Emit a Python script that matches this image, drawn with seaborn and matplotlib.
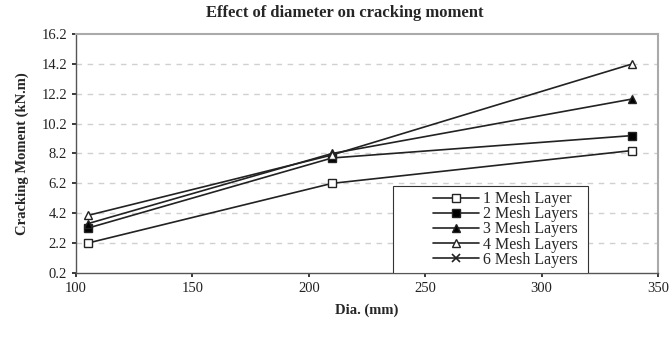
import matplotlib
matplotlib.use("Agg")
import matplotlib.pyplot as plt
from matplotlib.patches import Rectangle
import seaborn as sns
import pandas as pd
import numpy as np

diameters = [105, 210, 339]
mesh1 = [2.2, 6.2, 8.4]
mesh2 = [3.2, 7.9, 9.4]
mesh3 = [3.5, 8.2, 11.85]
mesh4 = [4.05, 8.1, 14.2]
series_names = ["1 Mesh Layer", "2 Mesh Layers", "3 Mesh Layers", "4 Mesh Layers", "6 Mesh Layers"]
yticks = [0.2, 2.2, 4.2, 6.2, 8.2, 10.2, 12.2, 14.2, 16.2]
xticks = [100, 150, 200, 250, 300, 350]

sns.set_theme(style="white")
plt.rcParams['font.family'] = ['Liberation Serif', 'DejaVu Serif']

rows = []
for name, vals in zip(series_names[:4], [mesh1, mesh2, mesh3, mesh4]):
    for d, v in zip(diameters, vals):
        rows.append({"Dia": d, "M": v, "Series": name})
df = pd.DataFrame(rows)

fig = plt.figure(figsize=(6.7, 3.39), dpi=100)
ax = fig.add_axes([0.1134, 0.1947, 0.8686, 0.705])

styles = {
    "1 Mesh Layer": dict(marker="s", mfc="white"),
    "2 Mesh Layers": dict(marker="s", mfc="black"),
    "3 Mesh Layers": dict(marker="^", mfc="black"),
    "4 Mesh Layers": dict(marker="^", mfc="white"),
}
col = "#222222"
for name in series_names[:4]:
    sub = df[df.Series == name]
    sns.lineplot(data=sub, x="Dia", y="M", ax=ax, color=col, lw=1.2,
                 marker=styles[name]["marker"], markersize=5.5,
                 markerfacecolor=styles[name]["mfc"], markeredgecolor=col,
                 markeredgewidth=1.0, label=name)
# 6 mesh layers: hidden beneath others, legend only
ax.plot([], [], color=col, lw=1.2, marker="x", markersize=5.5, markeredgewidth=1.2,
        label="6 Mesh Layers")

ax.set_xlim(100, 350)
ax.set_ylim(0.2, 16.2)
ax.set_xticks(xticks)
ax.set_yticks(yticks)
ax.set_yticklabels([f"{t:.1f}" for t in yticks])
for t in yticks[1:-1]:
    ax.axhline(t, color="#d0d0d0", lw=1.0, ls=(0, (4, 4)), zorder=0)

ax.tick_params(axis="both", labelsize=10.5, length=3, direction="out", colors="#222222",
               bottom=True, left=True)
for s in ["left", "bottom"]:
    ax.spines[s].set_color("#555555")
    ax.spines[s].set_linewidth(1.0)
for s in ["right", "top"]:
    ax.spines[s].set_color("#aaaaaa")
    ax.spines[s].set_linewidth(1.5)

ax.set_xlabel("Dia. (mm)", fontsize=10.5, fontweight="bold", labelpad=6)
ax.set_ylabel("Cracking Moment (kN.m)", fontsize=10.5, fontweight="bold", labelpad=9)
fig.suptitle("Effect of diameter on cracking moment", x=0.515, y=0.985,
             fontsize=12, fontweight="bold")

# legend box
ax.add_patch(Rectangle((0.545, 0.0), 0.335, 0.364, transform=ax.transAxes,
                       facecolor="white", edgecolor="#333333", lw=0.8, zorder=4))
leg = ax.legend(loc="center right", bbox_to_anchor=(0.868, 0.182), frameon=False,
                fontsize=11.5, handlelength=2.9, labelspacing=-0.05,
                borderpad=0.2, handletextpad=0.25, borderaxespad=0)
leg.set_zorder(5)

fig.savefig("out.png", dpi=100)
